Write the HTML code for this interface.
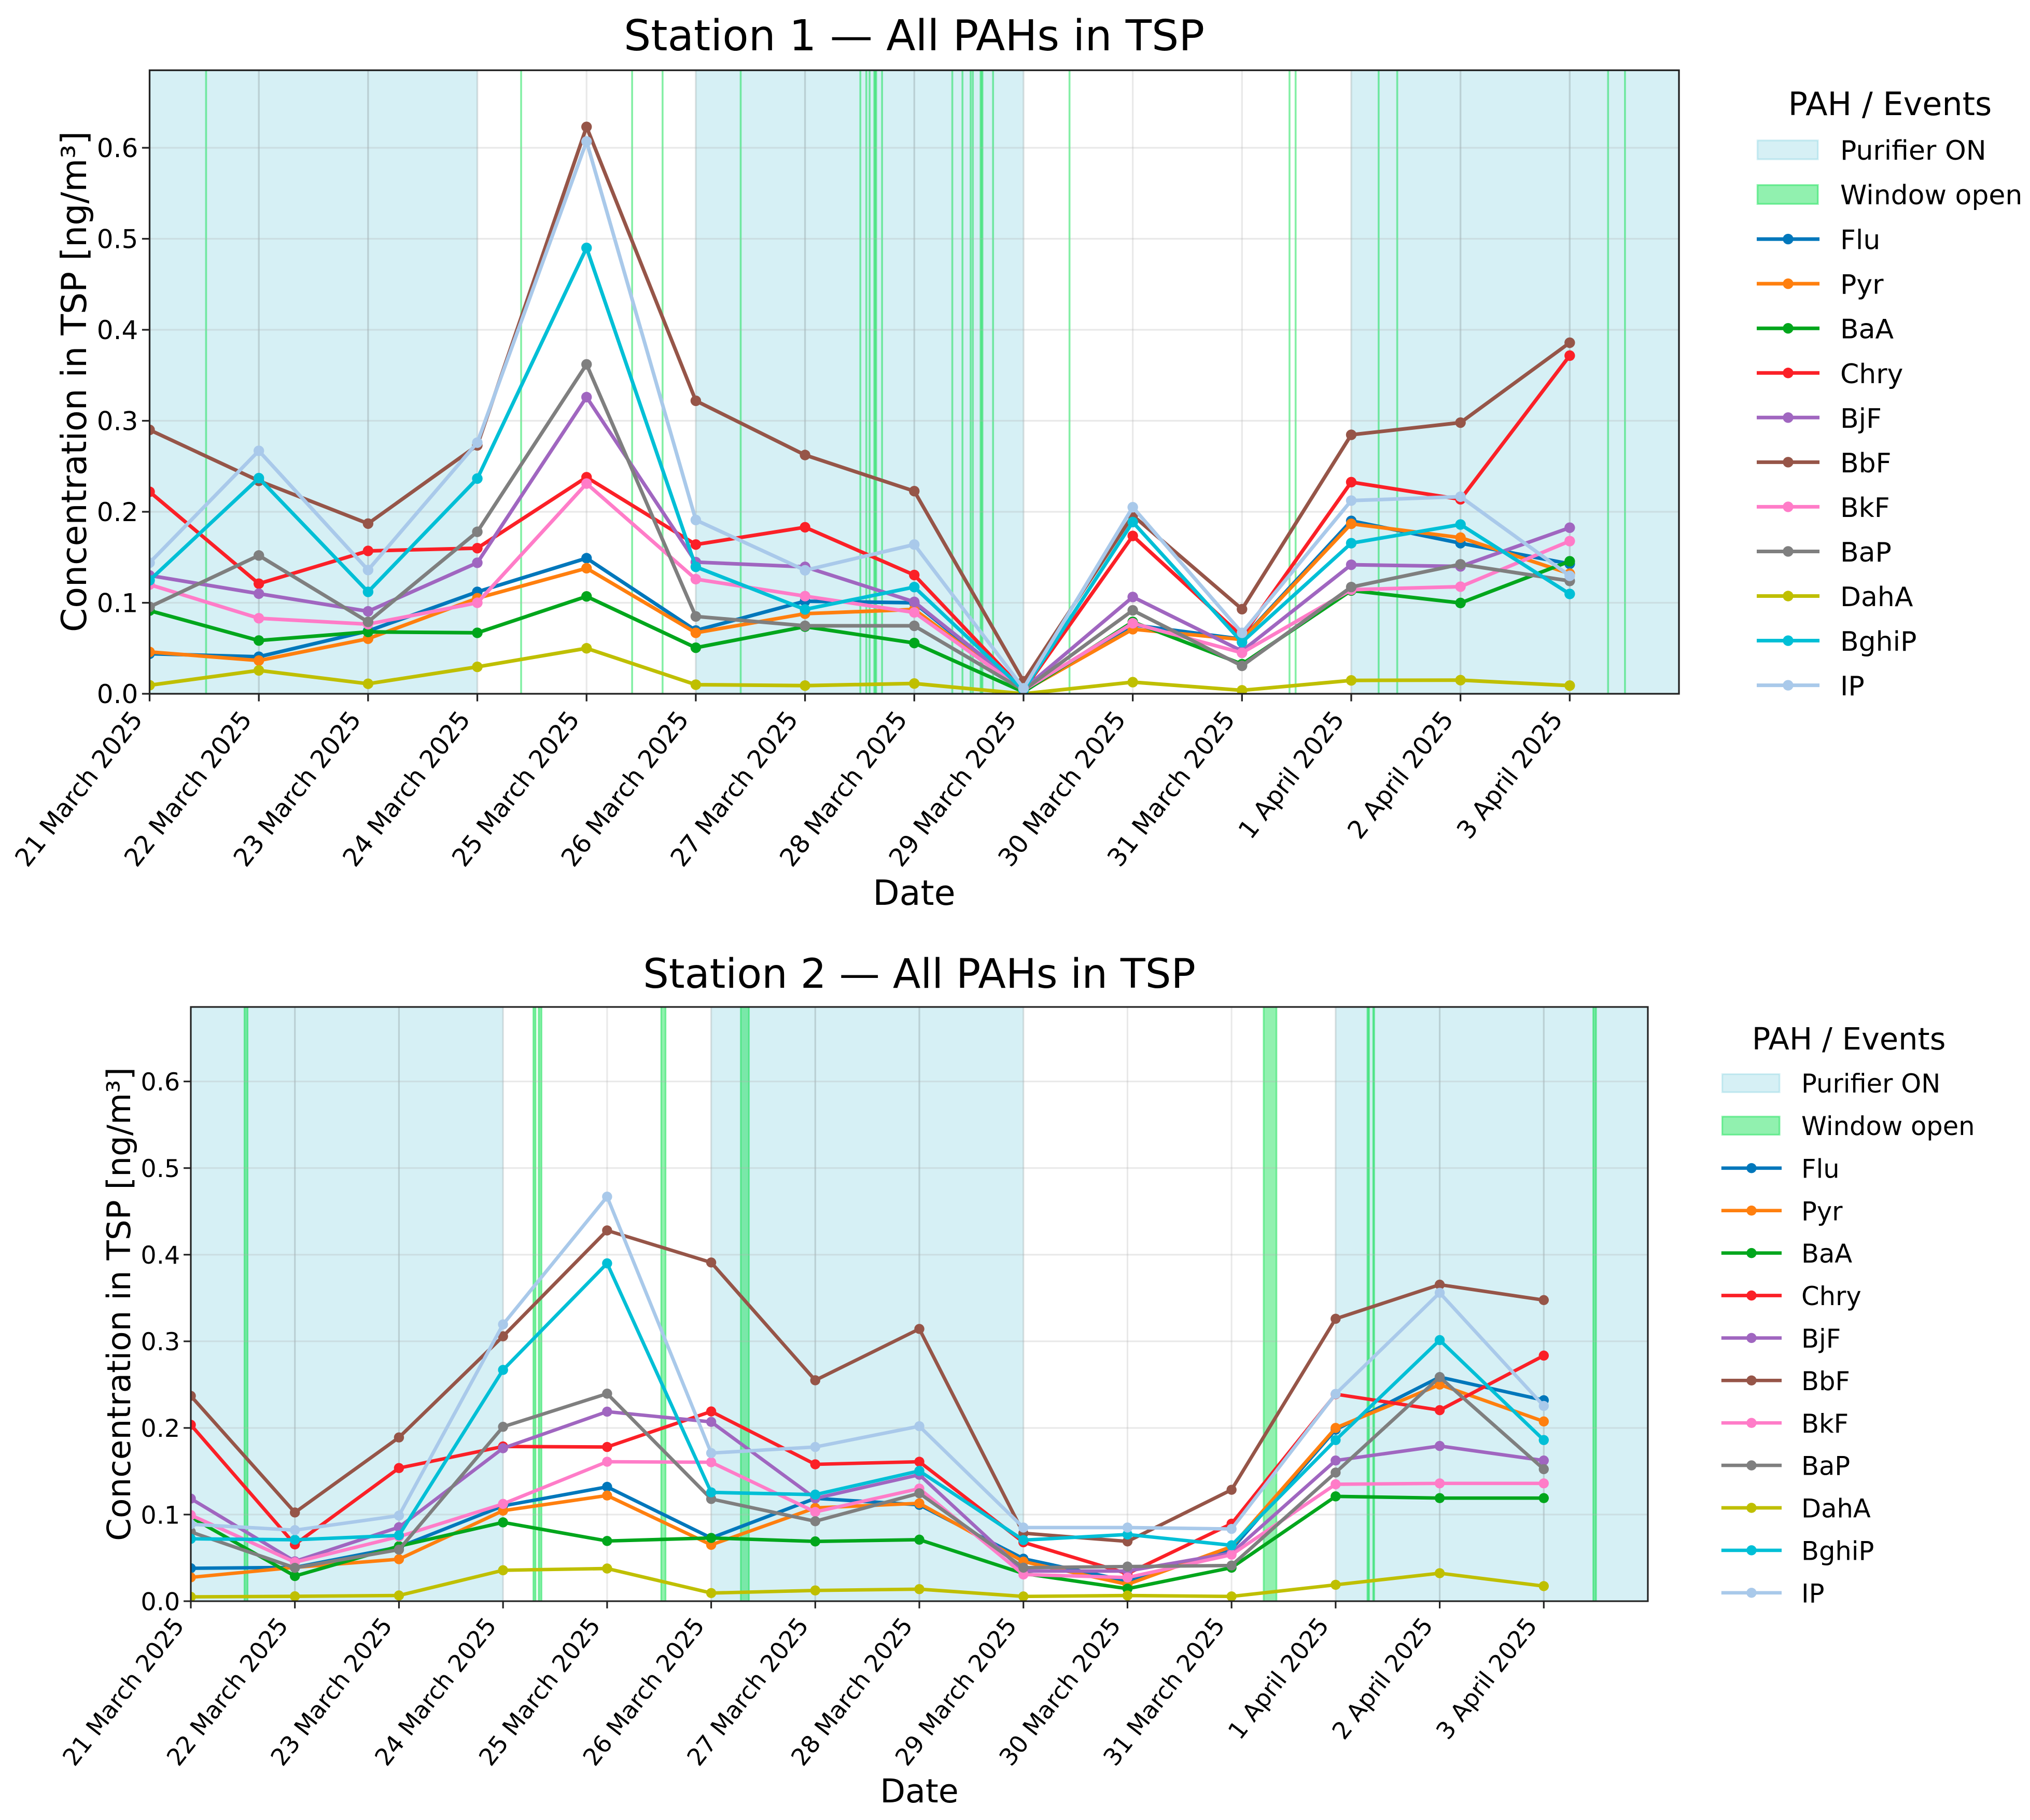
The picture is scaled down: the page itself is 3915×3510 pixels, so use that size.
<!DOCTYPE html>
<html lang="en">
<head>
<meta charset="utf-8">
<title>All PAHs in TSP by station</title>
<style>
html,body{margin:0;padding:0;background:#fff;}
svg{display:block;}
text{font-family:"DejaVu Sans","Liberation Sans",sans-serif;fill:#000;}
</style>
</head>
<body>
<svg id="figure" xmlns="http://www.w3.org/2000/svg" width="3915" height="3510" viewBox="0 0 3915 3510">
  <rect x="0" y="0" width="3915" height="3510" fill="#ffffff"/>
  <g id="chart1">
    <text x="1763" y="97" font-size="82.4" text-anchor="middle">Station 1 — All PAHs in TSP</text>
    <text x="1763" y="1745" font-size="66.6" text-anchor="middle">Date</text>
    <text transform="translate(166,736) rotate(-90)" font-size="66.4" text-anchor="middle">Concentration in TSP [ng/m³]</text>
    <text x="3645" y="222" font-size="62" text-anchor="middle">PAH / Events</text>
  </g>
  <g id="chart2">
    <text x="1773" y="1905" font-size="78.4" text-anchor="middle">Station 2 — All PAHs in TSP</text>
    <text x="1773" y="3476" font-size="63.4" text-anchor="middle">Date</text>
    <text transform="translate(251,2515) rotate(-90)" font-size="62.8" text-anchor="middle">Concentration in TSP [ng/m³]</text>
    <text x="3565.6" y="2024" font-size="59" text-anchor="middle">PAH / Events</text>
  </g>
</svg>
<script>
// ---------- shared categories and tick labels ----------
const dateLabels = ["21 March 2025","22 March 2025","23 March 2025","24 March 2025","25 March 2025","26 March 2025","27 March 2025","28 March 2025","29 March 2025","30 March 2025","31 March 2025","1 April 2025","2 April 2025","3 April 2025"];
const yTickValues = [0.0,0.1,0.2,0.3,0.4,0.5,0.6];
const yTickLabels = ["0.0","0.1","0.2","0.3","0.4","0.5","0.6"];
const seriesNames = ["Flu","Pyr","BaA","Chry","BjF","BbF","BkF","BaP","DahA","BghiP","IP"];
const seriesColors = ["#0077bb","#ff7f0e","#00a61c","#fb2027","#a066c0","#965548","#ff7cc8","#7f7f7f","#bfbf00","#00bfd6","#a9c9ea"];

// ---------- Station 1 values (ng/m3), one per day ----------
const s1Flu   = [.044,.0407,.069,.112,.149,.0695,.1017,.100,.003,.0757,.060,.190,.1655,.1428];
const s1Pyr   = [.046,.0365,.0605,.105,.138,.067,.088,.0927,.003,.071,.0596,.1868,.1716,.132];
const s1BaA   = [.0914,.0585,.068,.067,.107,.0506,.0738,.0558,.002,.079,.0326,.1135,.0998,.1456];
const s1Chry  = [.222,.121,.157,.160,.238,.164,.183,.1305,.004,.1735,.063,.2326,.2137,.3716];
const s1BjF   = [.130,.110,.0906,.144,.326,.1447,.1395,.101,.005,.1064,.047,.1418,.140,.1825];
const s1BbF   = [.290,.234,.187,.273,.623,.322,.2624,.2227,.0137,.196,.093,.2846,.298,.3858];
const s1BkF   = [.120,.083,.0765,.100,.231,.126,.1073,.0894,.004,.0775,.045,.1144,.1177,.1678];
const s1BaP   = [.0955,.152,.079,.178,.362,.085,.0747,.0747,.004,.0917,.0307,.1173,.1423,.124];
const s1DahA  = [.0094,.0257,.011,.0296,.050,.010,.009,.0113,.000,.0128,.0038,.0147,.015,.009];
const s1BghiP = [.1247,.237,.112,.2365,.490,.1395,.0927,.1173,.004,.1887,.0567,.1655,.186,.1097];
const s1IP    = [.144,.267,.136,.276,.607,.191,.1357,.164,.006,.205,.067,.2123,.2166,.1296];
const s1Series = [s1Flu,s1Pyr,s1BaA,s1Chry,s1BjF,s1BbF,s1BkF,s1BaP,s1DahA,s1BghiP,s1IP];

// Event days, as days since 21 March
const s1PurifierDays = [0,1,2,5,6,7,11,12,13];
const s1WindowStart = [.516,3.40,4.416,4.695,5.41,6.505,6.56,6.59,6.633,6.704,7.347,7.44,7.515,7.535,7.606,7.72,8.42,10.434,10.49,11.25,11.42,13.35,13.505];
const s1WindowEnd   = [.518,3.402,4.418,4.697,5.412,6.507,6.562,6.592,6.652,6.706,7.349,7.442,7.517,7.537,7.625,7.722,8.422,10.436,10.492,11.252,11.422,13.352,13.507];

// ---------- Station 2 values (ng/m3), one per day ----------
const s2Flu   = [.038,.039,.0625,.110,.132,.073,.1187,.1112,.049,.0233,.060,.198,.2587,.232];
const s2Pyr   = [.0275,.039,.0485,.1045,.122,.065,.1077,.113,.0457,.0194,.063,.200,.250,.2075];
const s2BaA   = [.097,.029,.0635,.091,.0695,.073,.069,.071,.032,.0144,.0387,.121,.119,.119];
const s2Chry  = [.2036,.0655,.1537,.1786,.178,.219,.158,.161,.068,.0318,.0894,.239,.2205,.2835];
const s2BjF   = [.1184,.046,.0854,.1766,.2188,.207,.1187,.146,.0348,.0348,.0556,.1624,.1792,.1624];
const s2BbF   = [.237,.1024,.189,.3058,.428,.391,.255,.3143,.0785,.069,.1286,.326,.3654,.3476];
const s2BkF   = [.0994,.045,.0745,.1123,.161,.1604,.103,.130,.0308,.0273,.0536,.135,.136,.136];
const s2BaP   = [.080,.0385,.0595,.2013,.2396,.118,.0923,.1246,.0387,.040,.0412,.1485,.2587,.1524];
const s2DahA  = [.005,.0056,.0066,.0357,.0377,.0094,.0124,.0139,.0055,.0065,.0055,.0189,.0323,.0174];
const s2BghiP = [.072,.0709,.076,.267,.390,.1256,.123,.1504,.0705,.077,.0645,.186,.3014,.186];
const s2IP    = [.0888,.082,.0988,.3195,.467,.171,.178,.202,.085,.085,.0834,.2393,.356,.2254];
const s2Series = [s2Flu,s2Pyr,s2BaA,s2Chry,s2BjF,s2BbF,s2BkF,s2BaP,s2DahA,s2BghiP,s2IP];

const s2PurifierDays = [0,1,2,5,6,7,11,12,13];
const s2WindowStart = [.515,3.291,3.342,4.519,5.284,10.308,11.305,11.36,13.475];
const s2WindowEnd   = [.546,3.313,3.370,4.562,5.363,10.432,11.322,11.371,13.503];

// ---------- rendering ----------
const SVG_NS = "http://www.w3.org/2000/svg";
function make(tag, parent, attrs) {
  const el = document.createElementNS(SVG_NS, tag);
  for (const k in attrs) el.setAttribute(k, attrs[k]);
  parent.appendChild(el);
  return el;
}

const purifierFill = "rgb(0,160,190)";
const windowFill = "rgb(0,222,70)";

function drawChart(host, clipId, geo, series, purifierDays, windowStart, windowEnd) {
  const k = geo.k;
  const spanDays = dateLabels.length;
  const xScale = d => geo.left + d * (geo.right - geo.left) / spanDays;
  const yScale = v => geo.bottom - v / geo.yMax * (geo.bottom - geo.top);

  const defs = make("defs", host, {});
  const clip = make("clipPath", defs, {id: clipId});
  make("rect", clip, {x: geo.left, y: geo.top, width: geo.right - geo.left, height: geo.bottom - geo.top});

  const plot = make("g", host, {"clip-path": "url(#" + clipId + ")"});
  
  

  purifierDays.forEach(d => {
    const band = make("rect", plot, {x: xScale(d), y: geo.top - 10, width: xScale(d + 1) - xScale(d), height: geo.bottom - geo.top + 20,
      fill: purifierFill, "fill-opacity": 0.16, stroke: "#8aa8b4", "stroke-opacity": 0.14, "stroke-width": 3.4 * k});
    
    
  });
  windowStart.forEach((s, i) => {
    const band = make("rect", plot, {x: xScale(s), y: geo.top - 10, width: xScale(windowEnd[i]) - xScale(s), height: geo.bottom - geo.top + 20,
      fill: windowFill, "fill-opacity": 0.43, stroke: windowFill, "stroke-opacity": 0.43, "stroke-width": 3.4 * k});
    
    
  });

  yTickValues.forEach(v => {
    if (v === 0) return;
    const line = make("line", plot, {x1: geo.left, x2: geo.right, y1: yScale(v), y2: yScale(v), stroke: "#b0b0b0", "stroke-opacity": 0.28, "stroke-width": 3.3 * k});
    
    
  });
  dateLabels.forEach((_, i) => {
    const line = make("line", plot, {x1: xScale(i), x2: xScale(i), y1: geo.top, y2: geo.bottom, stroke: "#b0b0b0", "stroke-opacity": 0.28, "stroke-width": 3.3 * k});
    
    
  });

  series.forEach((values, si) => {
    const group = make("g", plot, {});
    
    
    const pts = values.map((v, i) => xScale(i).toFixed(2) + "," + yScale(v).toFixed(2)).join(" ");
    const line = make("polyline", group, {points: pts, fill: "none", stroke: seriesColors[si], "stroke-width": 7 * k, "stroke-linejoin": "round"});
    
    
    values.forEach((v, i) => {
      const dot = make("circle", group, {cx: xScale(i), cy: yScale(v), r: 10.2 * k, fill: seriesColors[si]});
      
      
    });
  });

  // spines
  const spine = make("rect", host, {x: geo.left, y: geo.top, width: geo.right - geo.left, height: geo.bottom - geo.top, fill: "none", stroke: "#222222", "stroke-width": 3.3 * k});
  
  

  // y ticks
  yTickValues.forEach((v, i) => {
    const tick = make("line", host, {x1: geo.left - 14.6 * k, x2: geo.left, y1: yScale(v), y2: yScale(v), stroke: "#222222", "stroke-width": 3.3 * k});
    
    
    const label = make("text", host, {x: geo.left - 29.2 * k + 7, y: yScale(v) + 18.2 * k, "font-size": 50 * k, "text-anchor": "end"});
    label.textContent = yTickLabels[i];
    
    
  });

  // x ticks
  dateLabels.forEach((name, i) => {
    const tick = make("line", host, {x1: xScale(i), x2: xScale(i), y1: geo.bottom, y2: geo.bottom + 14.6 * k, stroke: "#222222", "stroke-width": 3.3 * k});
    
    
    const ax = xScale(i) - 11.5 * k;
    const ay = geo.bottom + 50 * k;
    const label = make("text", host, {transform: "translate(" + ax + "," + ay + ") rotate(-52)", "font-size": 48.5 * k, "text-anchor": "end"});
    label.textContent = name;
    
    
  });

  // legend
  const legend = make("g", host, {});
  
  
  const row = i => geo.legendY + geo.legendStep * i;
  const drawPatch = (rowIndex, color, alpha, text, patchName, textName) => {
    const patch = make("rect", legend, {x: geo.patchLeft, y: row(rowIndex) - geo.patchH / 2, width: geo.patchW, height: geo.patchH,
      fill: color, "fill-opacity": alpha, stroke: color, "stroke-opacity": alpha, "stroke-width": 3.4 * k});
    
    
    const label = make("text", legend, {x: geo.legendTextX, y: row(rowIndex) + 19 * k, "font-size": 52 * k});
    label.textContent = text;
    
    
  };
  drawPatch(0, purifierFill, 0.16, "Purifier ON", "legend-swatch-purifier", "legend-label-purifier");
  drawPatch(1, windowFill, 0.43, "Window open", "legend-swatch-window", "legend-label-window");
  seriesNames.forEach((name, i) => {
    const y = row(i + 2);
    const handle = make("line", legend, {x1: geo.handleLeft, x2: geo.handleRight, y1: y, y2: y, stroke: seriesColors[i], "stroke-width": 7 * k});
    
    
    const dot = make("circle", legend, {cx: (geo.handleLeft + geo.handleRight) / 2, cy: y, r: 10.2 * k, fill: seriesColors[i]});
    
    
    const label = make("text", legend, {x: geo.legendTextX, y: y + 19.5 * k, "font-size": 52 * k});
    label.textContent = name;
    
    
  });
}

drawChart(document.getElementById("chart1"), "clip-s1",
  {k: 1, left: 288.5, right: 3238, top: 135.5, bottom: 1338, yMax: 0.6852,
   legendY: 289, legendStep: 86.05, patchLeft: 3389.4, patchW: 116.6, patchH: 36.5, handleLeft: 3388, handleRight: 3509, legendTextX: 3549},
  s1Series, s1PurifierDays, s1WindowStart, s1WindowEnd);

drawChart(document.getElementById("chart2"), "clip-s2",
  {k: 0.9526, left: 368, right: 3178, top: 1942, bottom: 3088, yMax: 0.686,
   legendY: 2089, legendStep: 81.9, patchLeft: 3321.5, patchW: 110.5, patchH: 35, handleLeft: 3319.8, handleRight: 3436, legendTextX: 3474},
  s2Series, s2PurifierDays, s2WindowStart, s2WindowEnd);
</script>
</body>
</html>
